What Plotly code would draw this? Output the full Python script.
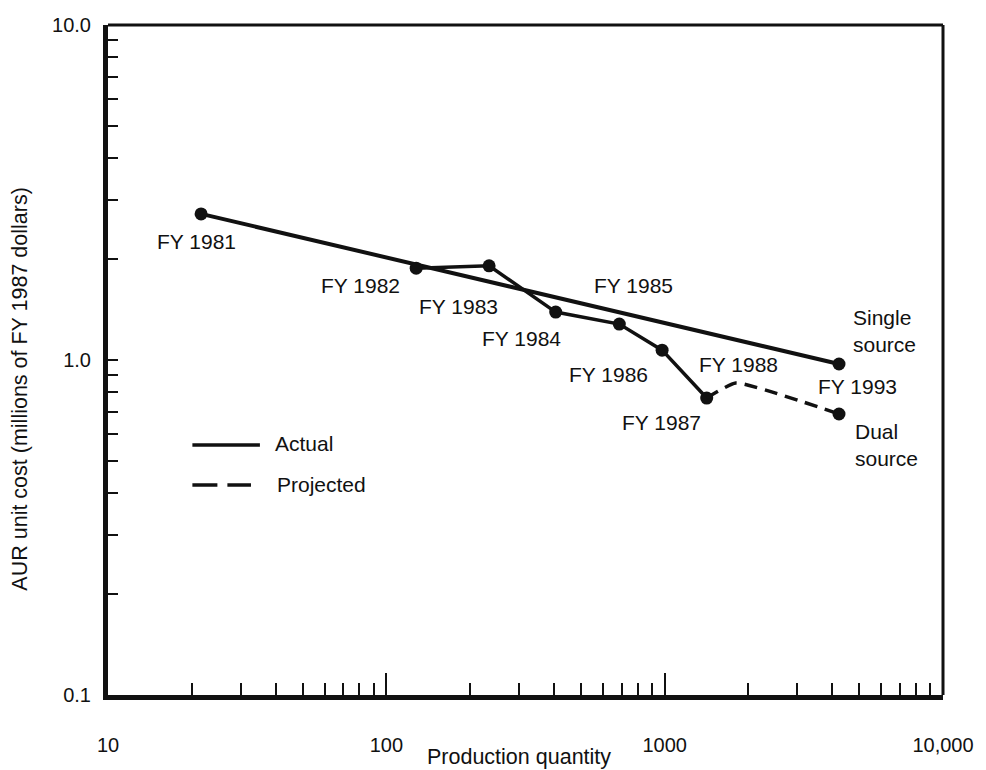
import numpy as np
import plotly.graph_objects as go

# Learning curve data (production quantity, unit cost in $M FY1987)
trend_years = ["FY 1981", "FY 1993"]
trend_qty = [21.6, 4230]
trend_cost = [2.73, 0.973]

actual_years = ["FY 1982", "FY 1983", "FY 1984", "FY 1985", "FY 1986", "FY 1987"]
actual_qty = [128, 234, 406, 687, 979, 1416]
actual_cost = [1.88, 1.91, 1.39, 1.28, 1.07, 0.77]

projected_years = ["FY 1987", "FY 1988", "FY 1993"]
projected_qty = [1416, 1800, 4230]
projected_cost = [0.77, 0.854, 0.69]

x_tickvals = [10, 100, 1000, 10000]
x_ticktext = ["10", "100", "1000", "10,000"]
y_tickvals = [0.1, 1, 10]
y_ticktext = ["0.1", "1.0", "10.0"]

FONT = "Liberation Sans, Arial, Helvetica, sans-serif"
INK = "#111111"

# plot area in pixels
L, R, T, B = 108, 949, 25, 695
W, H = R - L, B - T


def px_x(p):
    return (p - L) / W


def px_y(p):
    return (B - p) / H


fig = go.Figure()

fig.add_trace(go.Scatter(
    x=trend_qty, y=trend_cost, mode="lines+markers",
    line=dict(color=INK, width=4), marker=dict(size=13, color=INK),
    showlegend=False, hoverinfo="x+y",
))
fig.add_trace(go.Scatter(
    x=actual_qty, y=actual_cost, mode="lines+markers",
    line=dict(color=INK, width=3.5), marker=dict(size=13, color=INK),
    showlegend=False, hoverinfo="x+y",
))
fig.add_trace(go.Scatter(
    x=projected_qty, y=projected_cost, mode="lines",
    line=dict(color=INK, width=3.5, dash="13px,8px", shape="spline", smoothing=0.4),
    showlegend=False, hoverinfo="x+y",
))
fig.add_trace(go.Scatter(
    x=projected_qty[-1:], y=projected_cost[-1:], mode="markers",
    marker=dict(size=13, color=INK), showlegend=False, hoverinfo="x+y",
))

# point labels: (text, qty, cost, xshift, yshift, xanchor)
labels = [
    (trend_years[0], trend_qty[0], trend_cost[0], -5, -28, "center"),
    (actual_years[0], actual_qty[0], actual_cost[0], -56, -17, "center"),
    (actual_years[1], actual_qty[1], actual_cost[1], -31, -41, "center"),
    (actual_years[2], actual_qty[2], actual_cost[2], -34, -26, "center"),
    (actual_years[3], actual_qty[3], actual_cost[3], 14, 39, "center"),
    (actual_years[4], actual_qty[4], actual_cost[4], -54, -24, "center"),
    (actual_years[5], actual_qty[5], actual_cost[5], -45, -24, "center"),
    (projected_years[1], projected_qty[1], projected_cost[1], 3, 18, "center"),
    (trend_years[1], trend_qty[1], trend_cost[1], 18, -23, "center"),
    ("Single<br>source", trend_qty[1], trend_cost[1], 12, 33, "left"),
    ("Dual<br>source", projected_qty[2], projected_cost[2], 14, -31, "left"),
]
for text, q, c, dx, dy, anchor in labels:
    fig.add_annotation(
        x=np.log10(q), y=np.log10(c), text=text, showarrow=False,
        xshift=dx, yshift=dy, xanchor=anchor, yanchor="middle", align="left",
        font=dict(family=FONT, size=21, color=INK),
    )

# hand-drawn key
fig.add_shape(type="line", xref="paper", yref="paper",
              x0=px_x(193), x1=px_x(261), y0=px_y(445), y1=px_y(445),
              line=dict(color=INK, width=3.5))
fig.add_shape(type="line", xref="paper", yref="paper",
              x0=px_x(193), x1=px_x(252), y0=px_y(485), y1=px_y(485),
              line=dict(color=INK, width=3.5, dash="25px,10px"))
fig.add_annotation(xref="paper", yref="paper", x=px_x(274), y=px_y(443),
                   text="Actual", showarrow=False, xanchor="left", yanchor="middle",
                   font=dict(family=FONT, size=21, color=INK))
fig.add_annotation(xref="paper", yref="paper", x=px_x(276), y=px_y(484),
                   text="Projected", showarrow=False, xanchor="left", yanchor="middle",
                   font=dict(family=FONT, size=21, color=INK))

# frame: thinner top and right edges
fig.add_shape(type="line", xref="paper", yref="paper", x0=0, x1=1, y0=1, y1=1,
              line=dict(color=INK, width=3))
fig.add_shape(type="line", xref="paper", yref="paper", x0=1, x1=1, y0=0, y1=1,
              line=dict(color=INK, width=3))

# axis titles
fig.add_annotation(xref="paper", yref="paper", x=px_x(522), y=px_y(757),
                   text="Production quantity", showarrow=False,
                   xanchor="center", yanchor="middle",
                   font=dict(family=FONT, size=21.5, color=INK))
fig.add_annotation(xref="paper", yref="paper", x=px_x(19), y=px_y(389),
                   text="AUR unit cost (millions of FY 1987 dollars)", showarrow=False,
                   textangle=-90, xanchor="center", yanchor="middle",
                   font=dict(family=FONT, size=21.5, color=INK))

x_minor = [m * d for d in (10, 100, 1000) for m in range(2, 10)]
y_minor = [m * d for d in (0.1, 1) for m in range(2, 10)]

fig.update_layout(
    width=986, height=770,
    margin=dict(l=L, r=986 - R, t=T, b=770 - B),
    plot_bgcolor="white", paper_bgcolor="white",
    font=dict(family=FONT, size=20, color=INK),
    xaxis=dict(
        type="log", range=[1, 4], showgrid=False, zeroline=False,
        showline=True, linecolor=INK, linewidth=5,
        tickmode="array", tickvals=x_tickvals, ticktext=x_ticktext,
        ticks="inside", ticklen=22, tickwidth=2, tickcolor=INK,
        ticklabelstandoff=28,
        minor=dict(tickmode="array", tickvals=x_minor, ticks="inside",
                   ticklen=12, tickwidth=2, tickcolor=INK, showgrid=False),
        tickfont=dict(family=FONT, size=20, color=INK),
    ),
    yaxis=dict(
        type="log", range=[-1, 1], showgrid=False, zeroline=False,
        showline=True, linecolor=INK, linewidth=5,
        tickmode="array", tickvals=y_tickvals, ticktext=y_ticktext,
        ticks="inside", ticklen=10, tickwidth=2, tickcolor=INK,
        ticklabelstandoff=8,
        minor=dict(tickmode="array", tickvals=y_minor, ticks="inside",
                   ticklen=10, tickwidth=2, tickcolor=INK, showgrid=False),
        tickfont=dict(family=FONT, size=20, color=INK),
    ),
)

fig.write_html("out.html", config={"displayModeBar": False},
               post_script="document.body.style.margin='0px';")
